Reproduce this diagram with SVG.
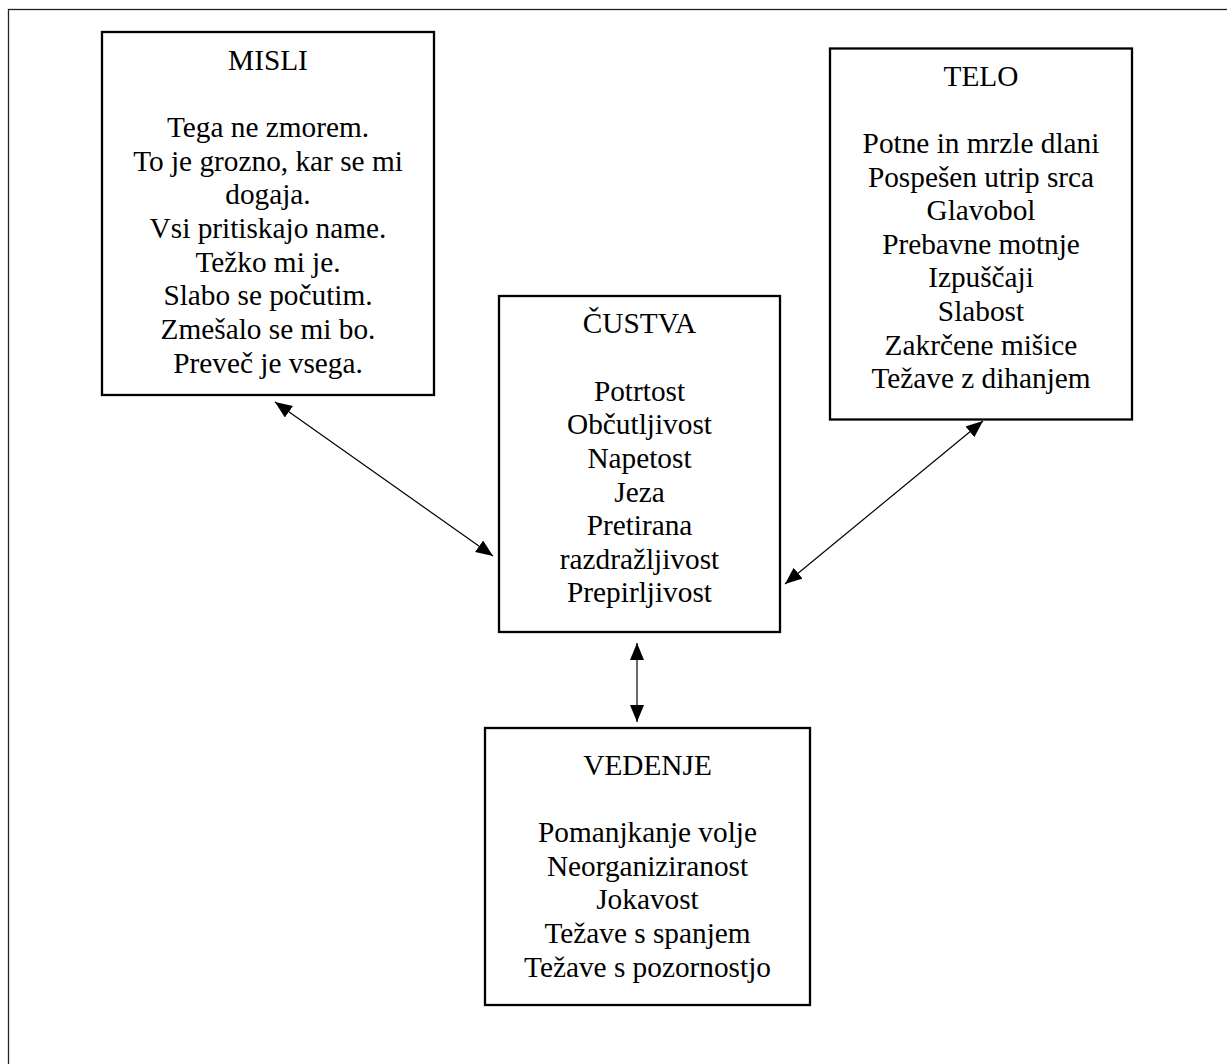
<svg xmlns="http://www.w3.org/2000/svg" width="1227" height="1064" viewBox="0 0 1227 1064">
<style>
.bg{fill:#fff}
.frame{fill:none;stroke:#222;stroke-width:1.3}
.box{fill:#fff;stroke:#000;stroke-width:2.3}
.t{font-family:"Liberation Serif","Times New Roman",serif;font-size:29.3px;fill:#000;text-anchor:middle}
.c{stroke:#000;stroke-width:1.2;fill:none;marker-start:url(#ah);marker-end:url(#ah)}
</style>
<defs>
<marker id="ah" markerUnits="userSpaceOnUse" markerWidth="19" markerHeight="15" refX="17" refY="7" orient="auto-start-reverse">
<path d="M0,0 L17,7 L0,14 z" fill="#000"/>
</marker>
</defs>
<rect class="bg" x="0" y="0" width="1227" height="1064"/>
<rect class="frame" x="8.5" y="9.5" width="1240" height="1080"/>

<g id="misli">
<rect class="box" x="102" y="32" width="332" height="363"/>
<text class="t" x="268" y="70">MISLI</text>
<text class="t" x="268" y="137">Tega ne zmorem.</text>
<text class="t" x="268" y="171">To je grozno, kar se mi</text>
<text class="t" x="268" y="204">dogaja.</text>
<text class="t" x="268" y="238">Vsi pritiskajo name.</text>
<text class="t" x="268" y="272">Težko mi je.</text>
<text class="t" x="268" y="305">Slabo se počutim.</text>
<text class="t" x="268" y="339">Zmešalo se mi bo.</text>
<text class="t" x="268" y="373">Preveč je vsega.</text>
</g>

<g id="telo">
<rect class="box" x="830" y="48.5" width="302" height="371"/>
<text class="t" x="981" y="86">TELO</text>
<text class="t" x="981" y="153">Potne in mrzle dlani</text>
<text class="t" x="981" y="187">Pospešen utrip srca</text>
<text class="t" x="981" y="220">Glavobol</text>
<text class="t" x="981" y="254">Prebavne motnje</text>
<text class="t" x="981" y="287">Izpuščaji</text>
<text class="t" x="981" y="321">Slabost</text>
<text class="t" x="981" y="355">Zakrčene mišice</text>
<text class="t" x="981" y="388">Težave z dihanjem</text>
</g>

<g id="custva">
<rect class="box" x="499" y="296" width="281" height="336"/>
<text class="t" x="639.5" y="333">ČUSTVA</text>
<text class="t" x="639.5" y="401">Potrtost</text>
<text class="t" x="639.5" y="434">Občutljivost</text>
<text class="t" x="639.5" y="468">Napetost</text>
<text class="t" x="639.5" y="502">Jeza</text>
<text class="t" x="639.5" y="535">Pretirana</text>
<text class="t" x="639.5" y="569">razdražljivost</text>
<text class="t" x="639.5" y="602">Prepirljivost</text>
</g>

<g id="vedenje">
<rect class="box" x="485" y="728" width="325" height="277"/>
<text class="t" x="647.5" y="775">VEDENJE</text>
<text class="t" x="647.5" y="842">Pomanjkanje volje</text>
<text class="t" x="647.5" y="876">Neorganiziranost</text>
<text class="t" x="647.5" y="909">Jokavost</text>
<text class="t" x="647.5" y="943">Težave s spanjem</text>
<text class="t" x="647.5" y="977">Težave s pozornostjo</text>
</g>

<g id="connectors">
<line class="c" x1="275" y1="402" x2="493" y2="556"/>
<line class="c" x1="983" y1="421" x2="785" y2="584"/>
<line class="c" x1="637" y1="643" x2="637" y2="722"/>
</g>
</svg>
